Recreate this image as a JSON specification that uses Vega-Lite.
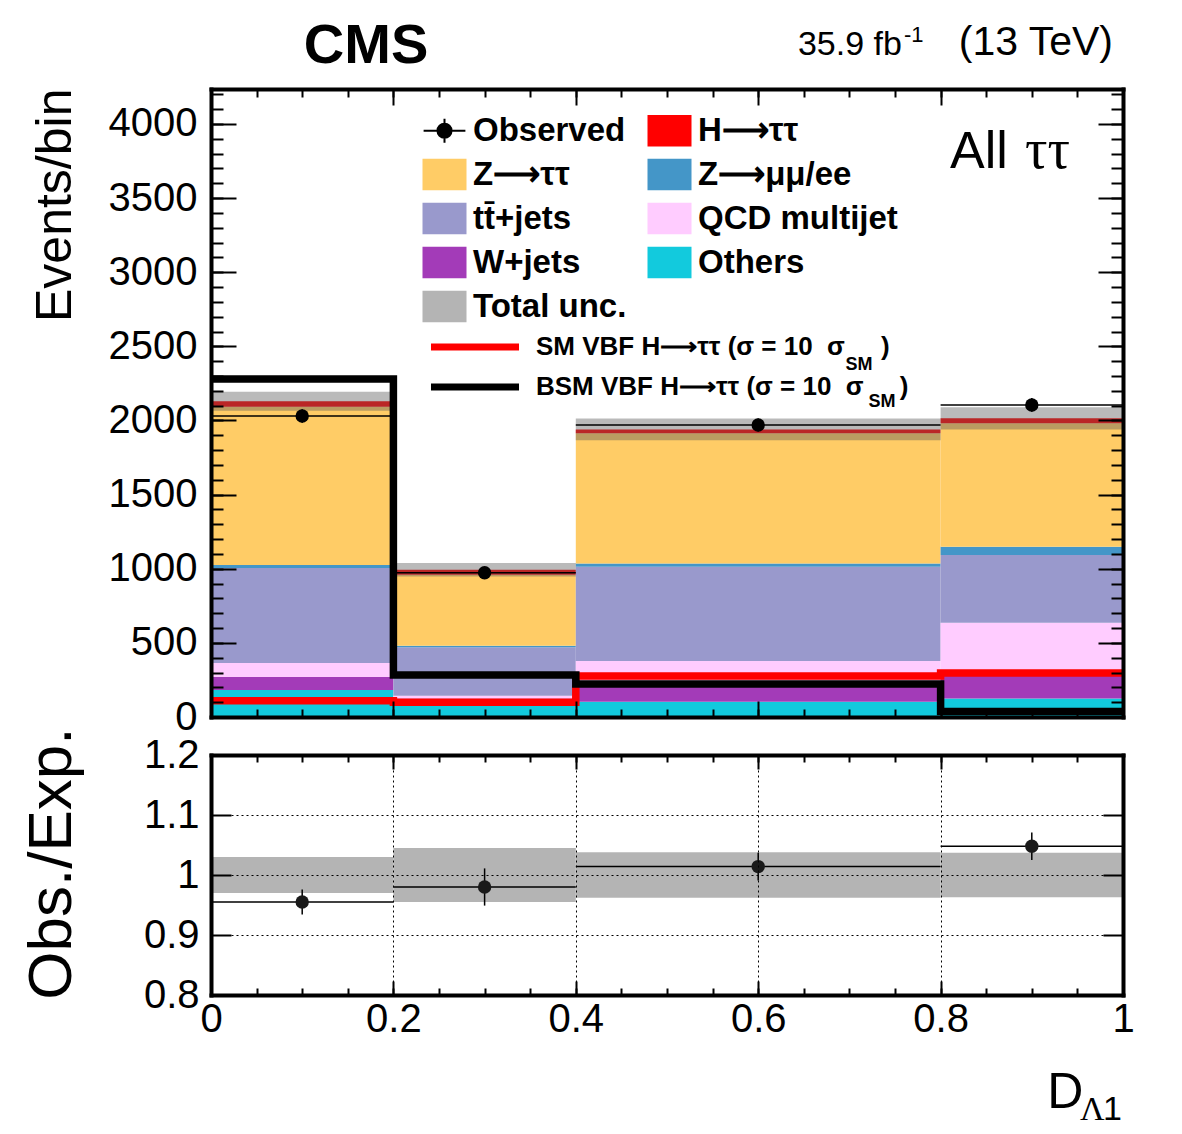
{
  "$schema": "https://vega.github.io/schema/vega-lite/v6.json",
  "autosize": {"type": "pad"},
  "padding": {"left": 20, "top": 18, "right": 10, "bottom": 10},
  "background": "white",
  "config": {
    "view": {"stroke": null},
    "font": "Liberation Sans",
    "axis": {
      "domain": false, "grid": false, "labelFont": "Liberation Sans", "labelFontSize": 40,
      "labelColor": "black", "tickColor": "black", "tickWidth": 2, "titleFont": "Liberation Sans",
      "titleFontWeight": "normal", "titleColor": "black", "labelFlush": false, "labelOverlap": false,
      "domainColor": "black", "domainWidth": 4, "domainCap": "square"
    }
  },
  "datasets": {
    "stack": [
      {"lo": 0.0, "hi": 0.2, "process": "Others", "n": 182},
      {"lo": 0.0, "hi": 0.2, "process": "W+jets", "n": 88},
      {"lo": 0.0, "hi": 0.2, "process": "QCD multijet", "n": 94},
      {"lo": 0.0, "hi": 0.2, "process": "tt̄+jets", "n": 641},
      {"lo": 0.0, "hi": 0.2, "process": "Z⟶μμ/ee", "n": 20},
      {"lo": 0.0, "hi": 0.2, "process": "Z⟶ττ", "n": 1068},
      {"lo": 0.0, "hi": 0.2, "process": "H⟶ττ", "n": 37},
      {"lo": 0.2, "hi": 0.4, "process": "Others", "n": 95},
      {"lo": 0.2, "hi": 0.4, "process": "W+jets", "n": 30},
      {"lo": 0.2, "hi": 0.4, "process": "QCD multijet", "n": 18},
      {"lo": 0.2, "hi": 0.4, "process": "tt̄+jets", "n": 327},
      {"lo": 0.2, "hi": 0.4, "process": "Z⟶μμ/ee", "n": 10},
      {"lo": 0.2, "hi": 0.4, "process": "Z⟶ττ", "n": 480},
      {"lo": 0.2, "hi": 0.4, "process": "H⟶ττ", "n": 33},
      {"lo": 0.4, "hi": 0.8, "process": "Others", "n": 103},
      {"lo": 0.4, "hi": 0.8, "process": "W+jets", "n": 142},
      {"lo": 0.4, "hi": 0.8, "process": "QCD multijet", "n": 133},
      {"lo": 0.4, "hi": 0.8, "process": "tt̄+jets", "n": 636},
      {"lo": 0.4, "hi": 0.8, "process": "Z⟶μμ/ee", "n": 22},
      {"lo": 0.4, "hi": 0.8, "process": "Z⟶ττ", "n": 878},
      {"lo": 0.4, "hi": 0.8, "process": "H⟶ττ", "n": 26},
      {"lo": 0.8, "hi": 1.0, "process": "Others", "n": 124},
      {"lo": 0.8, "hi": 1.0, "process": "W+jets", "n": 166},
      {"lo": 0.8, "hi": 1.0, "process": "QCD multijet", "n": 346},
      {"lo": 0.8, "hi": 1.0, "process": "tt̄+jets", "n": 457},
      {"lo": 0.8, "hi": 1.0, "process": "Z⟶μμ/ee", "n": 56},
      {"lo": 0.8, "hi": 1.0, "process": "Z⟶ττ", "n": 832},
      {"lo": 0.8, "hi": 1.0, "process": "H⟶ττ", "n": 34}
    ],
    "unc": [
      {"lo": 0.0, "hi": 0.2, "tlo": 2066, "thi": 2194, "rlo": 0.970, "rhi": 1.030},
      {"lo": 0.2, "hi": 0.4, "tlo": 948, "thi": 1038, "rlo": 0.955, "rhi": 1.045},
      {"lo": 0.4, "hi": 0.8, "tlo": 1866, "thi": 2014, "rlo": 0.962, "rhi": 1.038},
      {"lo": 0.8, "hi": 1.0, "tlo": 1940, "thi": 2090, "rlo": 0.963, "rhi": 1.037}
    ],
    "observed": [
      {"c": 0.1, "lo": 0.0, "hi": 0.2, "n": 2030, "nlo": 1985, "nhi": 2075, "r": 0.955, "elo": 0.934, "ehi": 0.976},
      {"c": 0.3, "lo": 0.2, "hi": 0.4, "n": 973, "nlo": 942, "nhi": 1004, "r": 0.980, "elo": 0.949, "ehi": 1.011},
      {"c": 0.6, "lo": 0.4, "hi": 0.8, "n": 1970, "nlo": 1926, "nhi": 2014, "r": 1.014, "elo": 0.991, "ehi": 1.037},
      {"c": 0.9, "lo": 0.8, "hi": 1.0, "n": 2105, "nlo": 2059, "nhi": 2151, "r": 1.048, "elo": 1.025, "ehi": 1.071}
    ],
    "signal": [
      {"model": "SM VBF H⟶ττ (σ = 10\u00a0\u00a0σ\u00a0\u00a0\u00a0\u00a0\u00a0)", "edge": 0.0, "n": 110},
      {"model": "SM VBF H⟶ττ (σ = 10\u00a0\u00a0σ\u00a0\u00a0\u00a0\u00a0\u00a0)", "edge": 0.2, "n": 100},
      {"model": "SM VBF H⟶ττ (σ = 10\u00a0\u00a0σ\u00a0\u00a0\u00a0\u00a0\u00a0)", "edge": 0.4, "n": 276},
      {"model": "SM VBF H⟶ττ (σ = 10\u00a0\u00a0σ\u00a0\u00a0\u00a0\u00a0\u00a0)", "edge": 0.8, "n": 297},
      {"model": "SM VBF H⟶ττ (σ = 10\u00a0\u00a0σ\u00a0\u00a0\u00a0\u00a0\u00a0)", "edge": 1.0, "n": 297},
      {"model": "BSM VBF H⟶ττ (σ = 10\u00a0\u00a0σ\u00a0\u00a0\u00a0\u00a0\u00a0)", "edge": 0.0, "n": 2280},
      {"model": "BSM VBF H⟶ττ (σ = 10\u00a0\u00a0σ\u00a0\u00a0\u00a0\u00a0\u00a0)", "edge": 0.2, "n": 283},
      {"model": "BSM VBF H⟶ττ (σ = 10\u00a0\u00a0σ\u00a0\u00a0\u00a0\u00a0\u00a0)", "edge": 0.4, "n": 223},
      {"model": "BSM VBF H⟶ττ (σ = 10\u00a0\u00a0σ\u00a0\u00a0\u00a0\u00a0\u00a0)", "edge": 0.8, "n": 37},
      {"model": "BSM VBF H⟶ττ (σ = 10\u00a0\u00a0σ\u00a0\u00a0\u00a0\u00a0\u00a0)", "edge": 1.0, "n": 37}
    ]
  },
  "vconcat": [
    {
      "width": 912,
      "height": 628,
      "resolve": {"axis": {"x": "independent", "y": "independent"}},
      "layer": [
        {
          "data": {"name": "stack"},
          "transform": [{"stack": "n", "groupby": ["lo"], "as": ["n0", "n1"]}],
          "mark": {"type": "rect"},
          "encoding": {
            "x": {"field": "lo", "type": "quantitative", "scale": {"domain": [0, 1], "nice": false, "zero": false},
              "axis": {"orient": "bottom", "values": [0, 0.2, 0.4, 0.6, 0.8, 1], "labels": false, "tickSize": -16, "title": null, "domain": true, "zindex": 1}},
            "x2": {"field": "hi"},
            "y": {"field": "n0", "type": "quantitative", "scale": {"domain": [0, 4236], "nice": false},
              "axis": {"orient": "left", "values": [0, 500, 1000, 1500, 2000, 2500, 3000, 3500, 4000], "format": "d",
                "tickSize": -25, "labelPadding": 39, "domain": true, "zindex": 1,
                "title": "Events/bin", "titleFontSize": 50, "titleAngle": 270, "titleAlign": "right",
                "titleBaseline": "alphabetic", "titleX": -141, "titleY": -1}},
            "y2": {"field": "n1"},
            "fill": {
              "field": "process", "type": "nominal",
              "scale": {
                "domain": ["Observed", "Z⟶ττ", "tt̄+jets", "W+jets", "Total unc.", "H⟶ττ", "Z⟶μμ/ee", "QCD multijet", "Others"],
                "range": ["#000000", "#ffcc66", "#9999cc", "#a33bb8", "#b4b4b4", "#ff0000", "#4496c8", "#ffccff", "#12cadd"]
              },
              "legend": {
                "orient": "none", "legendX": 217, "legendY": 25, "columns": 2, "title": null,
                "symbolSize": 1936, "symbolStrokeWidth": 0, "symbolOpacity": 1, "labelOffset": 12,
                "columnPadding": 20, "rowPadding": 10, "labelLimit": 400, "padding": 0,
                "labelFont": "Liberation Sans", "labelFontSize": 33, "labelFontWeight": "bold", "labelColor": "black",
                "encode": {
                  "symbols": {
                    "update": {
                      "shape": {"signal": "datum.value === 'Observed' ? 'M-0.95,0H0.95M0,-0.55V0.55M-0.32,0A0.32,0.32 0 1 1 0.32,0A0.32,0.32 0 1 1 -0.32,0Z' : 'M-1,-0.72H1V0.72H-1Z'"},
                      "stroke": {"signal": "datum.value === 'Observed' ? 'black' : 'transparent'"},
                      "strokeWidth": {"signal": "datum.value === 'Observed' ? 2 : 0"}
                    }
                  }
                }
              }
            }
          }
        },
        {
          "data": {"name": "unc"},
          "mark": {"type": "rect", "fill": "#5a5a5a", "opacity": 0.42},
          "encoding": {
            "x": {"field": "lo", "type": "quantitative", "scale": {"domain": [0, 1], "nice": false, "zero": false},
              "axis": {"orient": "bottom", "values": [0, 0.05, 0.1, 0.15, 0.2, 0.25, 0.3, 0.35, 0.4, 0.45, 0.5, 0.55, 0.6, 0.65, 0.7, 0.75, 0.8, 0.85, 0.9, 0.95, 1], "labels": false, "tickSize": -8, "title": null, "zindex": 1}},
            "x2": {"field": "hi"},
            "y": {"field": "tlo", "type": "quantitative", "scale": {"domain": [0, 4236], "nice": false},
              "axis": {"orient": "left", "values": [0, 100, 200, 300, 400, 500, 600, 700, 800, 900, 1000, 1100, 1200, 1300, 1400, 1500, 1600, 1700, 1800, 1900, 2000, 2100, 2200, 2300, 2400, 2500, 2600, 2700, 2800, 2900, 3000, 3100, 3200, 3300, 3400, 3500, 3600, 3700, 3800, 3900, 4000, 4100, 4200], "labels": false, "tickSize": -12, "title": null, "zindex": 1}},
            "y2": {"field": "thi"}
          }
        },
        {
          "data": {"name": "signal"},
          "mark": {"type": "line", "interpolate": "step-after", "strokeWidth": 7.5},
          "encoding": {
            "x": {"field": "edge", "type": "quantitative", "scale": {"domain": [0, 1], "nice": false, "zero": false},
              "axis": {"orient": "top", "values": [0, 0.2, 0.4, 0.6, 0.8, 1], "labels": false, "tickSize": -16, "title": null, "domain": true, "zindex": 1}},
            "y": {"field": "n", "type": "quantitative", "scale": {"domain": [0, 4236], "nice": false},
              "axis": {"orient": "right", "values": [0, 500, 1000, 1500, 2000, 2500, 3000, 3500, 4000], "labels": false, "tickSize": -25, "title": null, "domain": true, "zindex": 1}},
            "stroke": {
              "field": "model", "type": "nominal",
              "scale": {"domain": ["SM VBF H⟶ττ (σ = 10\u00a0\u00a0σ\u00a0\u00a0\u00a0\u00a0\u00a0)", "BSM VBF H⟶ττ (σ = 10\u00a0\u00a0σ\u00a0\u00a0\u00a0\u00a0\u00a0)"], "range": ["#ff0000", "#000000"]},
              "legend": {
                "orient": "none", "legendX": 251, "legendY": 245, "title": null, "padding": 0,
                "symbolType": "M-8,0H8", "symbolSize": 121, "symbolStrokeWidth": 7, "labelOffset": 48,
                "rowPadding": 12, "labelLimit": 500,
                "labelFont": "Liberation Sans", "labelFontSize": 26, "labelFontWeight": "bold", "labelColor": "black"
              }
            }
          }
        },
        {
          "data": {"name": "observed"},
          "mark": {"type": "rule", "color": "black", "strokeWidth": 1.5},
          "encoding": {
            "x": {"field": "lo", "type": "quantitative", "scale": {"domain": [0, 1], "nice": false, "zero": false},
              "axis": {"orient": "top", "values": [0, 0.05, 0.1, 0.15, 0.2, 0.25, 0.3, 0.35, 0.4, 0.45, 0.5, 0.55, 0.6, 0.65, 0.7, 0.75, 0.8, 0.85, 0.9, 0.95, 1], "labels": false, "tickSize": -8, "title": null, "zindex": 1}},
            "x2": {"field": "hi"},
            "y": {"field": "n", "type": "quantitative", "scale": {"domain": [0, 4236], "nice": false},
              "axis": {"orient": "right", "values": [0, 100, 200, 300, 400, 500, 600, 700, 800, 900, 1000, 1100, 1200, 1300, 1400, 1500, 1600, 1700, 1800, 1900, 2000, 2100, 2200, 2300, 2400, 2500, 2600, 2700, 2800, 2900, 3000, 3100, 3200, 3300, 3400, 3500, 3600, 3700, 3800, 3900, 4000, 4100, 4200], "labels": false, "tickSize": -12, "title": null, "zindex": 1}}
          }
        },
        {
          "data": {"name": "observed"},
          "mark": {"type": "rule", "color": "black", "strokeWidth": 1.5},
          "encoding": {
            "x": {"field": "c", "type": "quantitative", "scale": {"domain": [0, 1], "nice": false, "zero": false}, "axis": null},
            "y": {"field": "nlo", "type": "quantitative", "scale": {"domain": [0, 4236], "nice": false}, "axis": null},
            "y2": {"field": "nhi"}
          }
        },
        {
          "data": {"name": "observed"},
          "mark": {"type": "point", "filled": true, "shape": "circle", "size": 180, "color": "black", "opacity": 1},
          "encoding": {
            "x": {"field": "c", "type": "quantitative", "scale": {"domain": [0, 1], "nice": false, "zero": false}, "axis": null},
            "y": {"field": "n", "type": "quantitative", "scale": {"domain": [0, 4236], "nice": false}, "axis": null}
          }
        },
        {
          "data": {"values": [{}]},
          "mark": {"type": "text", "font": "Liberation Sans", "fontWeight": "bold", "fontSize": 56, "align": "center", "baseline": "alphabetic", "color": "black"},
          "encoding": {
            "x": {"datum": 0.17, "type": "quantitative", "scale": {"domain": [0, 1], "nice": false, "zero": false}, "axis": null},
            "y": {"datum": 4411, "type": "quantitative", "scale": {"domain": [0, 4236], "nice": false}, "axis": null},
            "text": {"value": "CMS"}
          }
        },
        {
          "data": {"values": [{}]},
          "mark": {"type": "text", "font": "Liberation Sans", "fontSize": 34, "align": "left", "baseline": "alphabetic", "color": "black"},
          "encoding": {
            "x": {"datum": 0.6436, "type": "quantitative", "scale": {"domain": [0, 1], "nice": false, "zero": false}, "axis": null},
            "y": {"datum": 4466, "type": "quantitative", "scale": {"domain": [0, 4236], "nice": false}, "axis": null},
            "text": {"value": "35.9 fb"}
          }
        },
        {
          "data": {"values": [{}]},
          "mark": {"type": "text", "font": "Liberation Sans", "fontSize": 22, "align": "left", "baseline": "alphabetic", "color": "black"},
          "encoding": {
            "x": {"datum": 0.7599, "type": "quantitative", "scale": {"domain": [0, 1], "nice": false, "zero": false}, "axis": null},
            "y": {"datum": 4553, "type": "quantitative", "scale": {"domain": [0, 4236], "nice": false}, "axis": null},
            "text": {"value": "-1"}
          }
        },
        {
          "data": {"values": [{}]},
          "mark": {"type": "text", "font": "Liberation Sans", "fontSize": 41, "align": "right", "baseline": "alphabetic", "color": "black"},
          "encoding": {
            "x": {"datum": 0.989, "type": "quantitative", "scale": {"domain": [0, 1], "nice": false, "zero": false}, "axis": null},
            "y": {"datum": 4466, "type": "quantitative", "scale": {"domain": [0, 4236], "nice": false}, "axis": null},
            "text": {"value": "(13 TeV)"}
          }
        },
        {
          "data": {"values": [{}]},
          "mark": {"type": "text", "font": "Liberation Sans", "fontSize": 52, "align": "left", "baseline": "alphabetic", "color": "black"},
          "encoding": {
            "x": {"datum": 0.8103, "type": "quantitative", "scale": {"domain": [0, 1], "nice": false, "zero": false}, "axis": null},
            "y": {"datum": 3703, "type": "quantitative", "scale": {"domain": [0, 4236], "nice": false}, "axis": null},
            "text": {"value": "All"}
          }
        },
        {
          "data": {"values": [{}]},
          "mark": {"type": "text", "font": "Liberation Serif", "fontSize": 56, "align": "left", "baseline": "alphabetic", "color": "black"},
          "encoding": {
            "x": {"datum": 0.8925, "type": "quantitative", "scale": {"domain": [0, 1], "nice": false, "zero": false}, "axis": null},
            "y": {"datum": 3703, "type": "quantitative", "scale": {"domain": [0, 4236], "nice": false}, "axis": null},
            "text": {"value": "ττ"}
          }
        },
        {
          "data": {"values": [{}]},
          "mark": {"type": "text", "font": "Liberation Sans", "fontWeight": "bold", "fontSize": 18, "align": "center", "baseline": "alphabetic", "color": "black"},
          "encoding": {
            "x": {"datum": 0.7105, "type": "quantitative", "scale": {"domain": [0, 1], "nice": false, "zero": false}, "axis": null},
            "y": {"datum": 2341, "type": "quantitative", "scale": {"domain": [0, 4236], "nice": false}, "axis": null},
            "text": {"value": "SM"}
          }
        },
        {
          "data": {"values": [{}]},
          "mark": {"type": "text", "font": "Liberation Sans", "fontWeight": "bold", "fontSize": 18, "align": "center", "baseline": "alphabetic", "color": "black"},
          "encoding": {
            "x": {"datum": 0.7358, "type": "quantitative", "scale": {"domain": [0, 1], "nice": false, "zero": false}, "axis": null},
            "y": {"datum": 2091, "type": "quantitative", "scale": {"domain": [0, 4236], "nice": false}, "axis": null},
            "text": {"value": "SM"}
          }
        }
      ]
    },
    {
      "width": 912,
      "height": 240,
      "resolve": {"axis": {"x": "independent", "y": "independent"}},
      "layer": [
        {
          "data": {"name": "unc"},
          "mark": {"type": "rect", "fill": "#b4b4b4"},
          "encoding": {
            "x": {"field": "lo", "type": "quantitative", "scale": {"domain": [0, 1], "nice": false, "zero": false},
              "axis": {"orient": "bottom", "values": [0, 0.2, 0.4, 0.6, 0.8, 1], "format": "~g", "tickSize": -14, "labelPadding": 18,
                "grid": true, "gridDash": [2, 3], "gridColor": "black", "gridWidth": 1, "domain": true, "zindex": 1, "title": null}},
            "x2": {"field": "hi"},
            "y": {"field": "rlo", "type": "quantitative", "scale": {"domain": [0.8, 1.2], "nice": false, "zero": false},
              "axis": {"orient": "left", "values": [0.8, 0.9, 1, 1.1, 1.2], "format": "~g", "tickSize": -20, "labelPadding": 32,
                "grid": true, "gridDash": [2, 3], "gridColor": "black", "gridWidth": 1, "domain": true, "zindex": 1,
                "title": "Obs./Exp.", "titleFontSize": 62, "titleAngle": 270, "titleAlign": "right",
                "titleBaseline": "alphabetic", "titleX": -141, "titleY": -28}},
            "y2": {"field": "rhi"}
          }
        },
        {
          "data": {"name": "observed"},
          "mark": {"type": "rule", "color": "black", "strokeWidth": 1.5},
          "encoding": {
            "x": {"field": "lo", "type": "quantitative", "scale": {"domain": [0, 1], "nice": false, "zero": false},
              "axis": {"orient": "bottom", "values": [0, 0.05, 0.1, 0.15, 0.2, 0.25, 0.3, 0.35, 0.4, 0.45, 0.5, 0.55, 0.6, 0.65, 0.7, 0.75, 0.8, 0.85, 0.9, 0.95, 1], "labels": false, "tickSize": -7, "title": null, "zindex": 1}},
            "x2": {"field": "hi"},
            "y": {"field": "r", "type": "quantitative", "scale": {"domain": [0.8, 1.2], "nice": false, "zero": false}, "axis": null}
          }
        },
        {
          "data": {"name": "observed"},
          "mark": {"type": "rule", "color": "black", "strokeWidth": 1.5},
          "encoding": {
            "x": {"field": "c", "type": "quantitative", "scale": {"domain": [0, 1], "nice": false, "zero": false},
              "axis": {"orient": "top", "values": [0, 0.2, 0.4, 0.6, 0.8, 1], "labels": false, "tickSize": -14, "title": null, "domain": true, "zindex": 1}},
            "y": {"field": "elo", "type": "quantitative", "scale": {"domain": [0.8, 1.2], "nice": false, "zero": false},
              "axis": {"orient": "right", "values": [0.8, 0.9, 1, 1.1, 1.2], "labels": false, "tickSize": -20, "title": null, "domain": true, "zindex": 1}},
            "y2": {"field": "ehi"}
          }
        },
        {
          "data": {"name": "observed"},
          "mark": {"type": "point", "filled": true, "shape": "circle", "size": 180, "color": "#1a1a1a", "opacity": 1},
          "encoding": {
            "x": {"field": "c", "type": "quantitative", "scale": {"domain": [0, 1], "nice": false, "zero": false},
              "axis": {"orient": "top", "values": [0, 0.05, 0.1, 0.15, 0.2, 0.25, 0.3, 0.35, 0.4, 0.45, 0.5, 0.55, 0.6, 0.65, 0.7, 0.75, 0.8, 0.85, 0.9, 0.95, 1], "labels": false, "tickSize": -7, "title": null, "zindex": 1}},
            "y": {"field": "r", "type": "quantitative", "scale": {"domain": [0.8, 1.2], "nice": false, "zero": false}, "axis": null}
          }
        },
        {
          "data": {"values": [{}]},
          "mark": {"type": "text", "font": "Liberation Sans", "fontSize": 50, "align": "left", "baseline": "alphabetic", "color": "black"},
          "encoding": {
            "x": {"datum": 0.917, "type": "quantitative", "scale": {"domain": [0, 1], "nice": false, "zero": false}, "axis": null},
            "y": {"datum": 0.6117, "type": "quantitative", "scale": {"domain": [0.8, 1.2], "nice": false, "zero": false}, "axis": null},
            "text": {"value": "D"}
          }
        },
        {
          "data": {"values": [{}]},
          "mark": {"type": "text", "font": "Liberation Serif", "fontSize": 34, "align": "left", "baseline": "alphabetic", "color": "black"},
          "encoding": {
            "x": {"datum": 0.9529, "type": "quantitative", "scale": {"domain": [0, 1], "nice": false, "zero": false}, "axis": null},
            "y": {"datum": 0.5917, "type": "quantitative", "scale": {"domain": [0.8, 1.2], "nice": false, "zero": false}, "axis": null},
            "text": {"value": "Λ"}
          }
        },
        {
          "data": {"values": [{}]},
          "mark": {"type": "text", "font": "Liberation Sans", "fontSize": 34, "align": "left", "baseline": "alphabetic", "color": "black"},
          "encoding": {
            "x": {"datum": 0.978, "type": "quantitative", "scale": {"domain": [0, 1], "nice": false, "zero": false}, "axis": null},
            "y": {"datum": 0.5917, "type": "quantitative", "scale": {"domain": [0.8, 1.2], "nice": false, "zero": false}, "axis": null},
            "text": {"value": "1"}
          }
        }
      ]
    }
  ],
  "spacing": 38,
  "bounds": "flush"
}
